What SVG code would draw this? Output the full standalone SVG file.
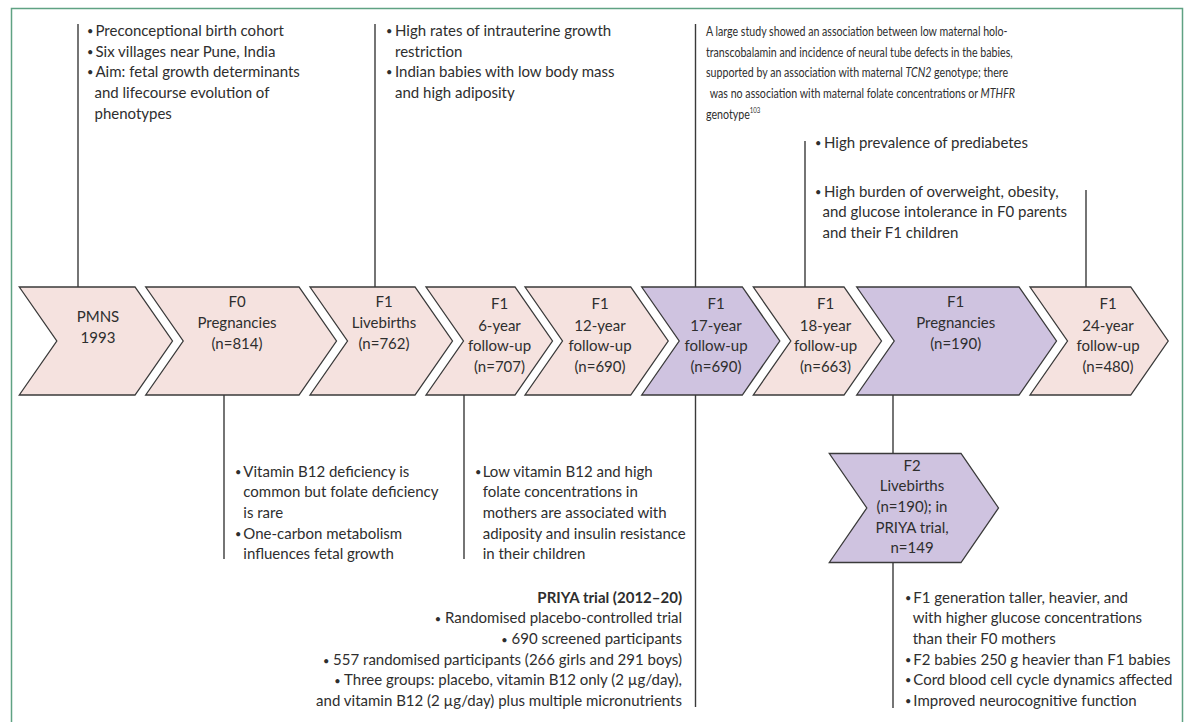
<svg xmlns="http://www.w3.org/2000/svg" width="1184" height="722" viewBox="0 0 1184 722">
  <style>
    .t { font-family: Lato, "Liberation Sans", sans-serif; font-size: 15px; fill: #2e2e2e; }
    .c { text-anchor: middle; }
    .r { text-anchor: end; }
    .b { font-weight: bold; }
    .dot { font-size: 11px; }
    .para { font-size: 14px; }
    .sup { font-size: 8px; }
    .pink { fill: #f5e2df; stroke: #3a3a3a; stroke-width: 1.3; }
    .lav { fill: #cfc3e0; stroke: #3a3a3a; stroke-width: 1.3; }
    .ln { stroke: #3a3a3a; stroke-width: 1.4; fill: none; }
  </style>

  <rect width="1184" height="722" fill="#ffffff"/>
  <!-- outer panel frame -->
  <path d="M11.5,730 V8.5 H1182.5 V730" fill="none" stroke="#5fa283" stroke-width="1.5"/>

  <!-- connectors -->
  <g id="connectors" class="ln">
    <line x1="78" y1="24" x2="78" y2="287"/>
    <line x1="375" y1="24" x2="375" y2="287"/>
    <line x1="695.5" y1="24" x2="695.5" y2="287"/>
    <line x1="805" y1="141" x2="805" y2="287"/>
    <line x1="1086" y1="190" x2="1086" y2="287"/>
    <line x1="224" y1="395" x2="224" y2="559"/>
    <line x1="464" y1="395" x2="464" y2="559"/>
    <line x1="695.5" y1="395" x2="695.5" y2="707"/>
    <line x1="893" y1="395" x2="893" y2="453"/>
    <line x1="893" y1="562" x2="893" y2="708"/>
  </g>

  <!-- timeline chevrons -->
  <g id="pmns">
    <polygon class="pink" points="19.3,287 135,287 172.5,341 135,395 19.3,395 56.8,341"/>
    <text class="t c" x="98" y="321.7">PMNS</text>
    <text class="t c" x="98" y="343.3">1993</text>
  </g>
  <g id="f0-pregnancies">
    <polygon class="pink" points="145.7,287 299,287 336.5,341 299,395 145.7,395 183.2,341"/>
    <text class="t c" x="237" y="307.3">F0</text>
    <text class="t c" x="237" y="328.3">Pregnancies</text>
    <text class="t c" x="237" y="349">(n=814)</text>
  </g>
  <g id="f1-livebirths">
    <polygon class="pink" points="310,287 415,287 452.5,341 415,395 310,395 347.5,341"/>
    <text class="t c" x="384" y="307.3">F1</text>
    <text class="t c" x="384" y="328.3">Livebirths</text>
    <text class="t c" x="384" y="349">(n=762)</text>
  </g>
  <g id="f1-6y">
    <polygon class="pink" points="426,287 515,287 552.5,341 515,395 426,395 463.5,341"/>
    <text class="t c" x="499.5" y="309.3">F1</text>
    <text class="t c" x="499.5" y="330.5">6-year</text>
    <text class="t c" x="499.5" y="351">follow-up</text>
    <text class="t c" x="499.5" y="371.7">(n=707)</text>
  </g>
  <g id="f1-12y">
    <polygon class="pink" points="525,287 630.7,287 668.2,341 630.7,395 525,395 562.5,341"/>
    <text class="t c" x="600" y="309.3">F1</text>
    <text class="t c" x="600" y="330.5">12-year</text>
    <text class="t c" x="600" y="351">follow-up</text>
    <text class="t c" x="600" y="371.7">(n=690)</text>
  </g>
  <g id="f1-17y">
    <polygon class="lav" points="641.7,287 742.3,287 779.8,341 742.3,395 641.7,395 679.2,341"/>
    <text class="t c" x="716" y="309.3">F1</text>
    <text class="t c" x="716" y="330.5">17-year</text>
    <text class="t c" x="716" y="351">follow-up</text>
    <text class="t c" x="716" y="371.7">(n=690)</text>
  </g>
  <g id="f1-18y">
    <polygon class="pink" points="753.3,287 844,287 881.5,341 844,395 753.3,395 790.8,341"/>
    <text class="t c" x="825.5" y="309.3">F1</text>
    <text class="t c" x="825.5" y="330.5">18-year</text>
    <text class="t c" x="825.5" y="351">follow-up</text>
    <text class="t c" x="825.5" y="371.7">(n=663)</text>
  </g>
  <g id="f1-pregnancies">
    <polygon class="lav" points="856.7,287 1019,287 1056.5,341 1019,395 856.7,395 894.2,341"/>
    <text class="t c" x="955.7" y="307.3">F1</text>
    <text class="t c" x="955.7" y="328.3">Pregnancies</text>
    <text class="t c" x="955.7" y="349">(n=190)</text>
  </g>
  <g id="f1-24y">
    <polygon class="pink" points="1030,287 1130.7,287 1168.2,341 1130.7,395 1030,395 1067.5,341"/>
    <text class="t c" x="1108" y="309.3">F1</text>
    <text class="t c" x="1108" y="330.5">24-year</text>
    <text class="t c" x="1108" y="351">follow-up</text>
    <text class="t c" x="1108" y="371.7">(n=480)</text>
  </g>
  <g id="f2-livebirths">
    <polygon class="lav" points="829.3,453.5 961,453.5 998.5,508 961,562.5 829.3,562.5 866.8,508"/>
    <text class="t c" x="912" y="470.7">F2</text>
    <text class="t c" x="912" y="491.3">Livebirths</text>
    <text class="t c" x="912" y="512">(n=190); in</text>
    <text class="t c" x="912" y="532.7">PRIYA trial,</text>
    <text class="t c" x="912" y="553.3">n=149</text>
  </g>

  <!-- annotations above the timeline -->
  <g id="note-cohort" class="t">
    <text class="dot" x="87" y="35">•</text><text x="95.5" y="36">Preconceptional birth cohort</text>
    <text class="dot" x="87" y="55.7">•</text><text x="95.5" y="56.7">Six villages near Pune, India</text>
    <text class="dot" x="87" y="76.3">•</text><text x="95.5" y="77.3">Aim: fetal growth determinants</text>
    <text x="94.5" y="98">and lifecourse evolution of</text>
    <text x="94.5" y="118.7">phenotypes</text>
  </g>
  <g id="note-iugr" class="t">
    <text class="dot" x="386" y="35">•</text><text x="395" y="36">High rates of intrauterine growth</text>
    <text x="395" y="56.7">restriction</text>
    <text class="dot" x="386" y="76.3">•</text><text x="395" y="77.3">Indian babies with low body mass</text>
    <text x="395" y="98">and high adiposity</text>
  </g>
  <!-- narrow-set paragraph: condensed horizontally from its left edge -->
  <g id="note-ntd" class="t para" transform="translate(706 0) scale(0.76 1) translate(-706 0)">
    <text x="706" y="36">A large study showed an association between low maternal holo-</text>
    <text x="706" y="56.7">transcobalamin and incidence of neural tube defects in the babies,</text>
    <text x="706" y="77.3">supported by an association with maternal <tspan font-style="italic">TCN2</tspan> genotype; there</text>
    <text x="711" y="98">was no association with maternal folate concentrations or <tspan font-style="italic">MTHFR</tspan></text>
    <text x="706" y="118.7">genotype<tspan class="sup" dy="-6">103</tspan></text>
  </g>
  <g id="note-prediabetes" class="t">
    <text class="dot" x="815" y="147.3">•</text><text x="824" y="148.3">High prevalence of prediabetes</text>
  </g>
  <g id="note-overweight" class="t">
    <text class="dot" x="815" y="195.7">•</text><text x="824" y="196.7">High burden of overweight, obesity,</text>
    <text x="822.5" y="217.3">and glucose intolerance in F0 parents</text>
    <text x="822.5" y="238">and their F1 children</text>
  </g>

  <!-- annotations below the timeline -->
  <g id="note-b12" class="t">
    <text class="dot" x="235" y="475.7">•</text><text x="243.3" y="476.7">Vitamin B12 deficiency is</text>
    <text x="243.3" y="497.3">common but folate deficiency</text>
    <text x="243.3" y="518">is rare</text>
    <text class="dot" x="235" y="537.7">•</text><text x="243.3" y="538.7">One-carbon metabolism</text>
    <text x="243.3" y="559.3">influences fetal growth</text>
  </g>
  <g id="note-adiposity" class="t">
    <text class="dot" x="475" y="475.7">•</text><text x="482.7" y="476.7">Low vitamin B12 and high</text>
    <text x="482.7" y="497.3">folate concentrations in</text>
    <text x="482.7" y="518">mothers are associated with</text>
    <text x="482.7" y="538.7">adiposity and insulin resistance</text>
    <text x="482.7" y="559.3">in their children</text>
  </g>
  <g id="note-priya" class="t r">
    <text class="b" x="682" y="602.7">PRIYA trial (2012–20)</text>
    <text x="682" y="623.3"><tspan class="dot">•</tspan> Randomised placebo-controlled trial</text>
    <text x="682" y="644"><tspan class="dot">•</tspan> 690 screened participants</text>
    <text x="682" y="664.7"><tspan class="dot">•</tspan> 557 randomised participants (266 girls and 291 boys)</text>
    <text x="682" y="685.3"><tspan class="dot">•</tspan> Three groups: placebo, vitamin B12 only (2 µg/day),</text>
    <text x="682" y="706">and vitamin B12 (2 µg/day) plus multiple micronutrients</text>
  </g>
  <g id="note-f2" class="t">
    <text class="dot" x="905" y="601.7">•</text><text x="913.3" y="602.7">F1 generation taller, heavier, and</text>
    <text x="912.7" y="623.3">with higher glucose concentrations</text>
    <text x="912.7" y="644">than their F0 mothers</text>
    <text class="dot" x="905" y="663.7">•</text><text x="913.3" y="664.7">F2 babies 250 g heavier than F1 babies</text>
    <text class="dot" x="905" y="684.3">•</text><text x="913.3" y="685.3">Cord blood cell cycle dynamics affected</text>
    <text class="dot" x="905" y="705">•</text><text x="913.3" y="706">Improved neurocognitive function</text>
  </g>
</svg>
